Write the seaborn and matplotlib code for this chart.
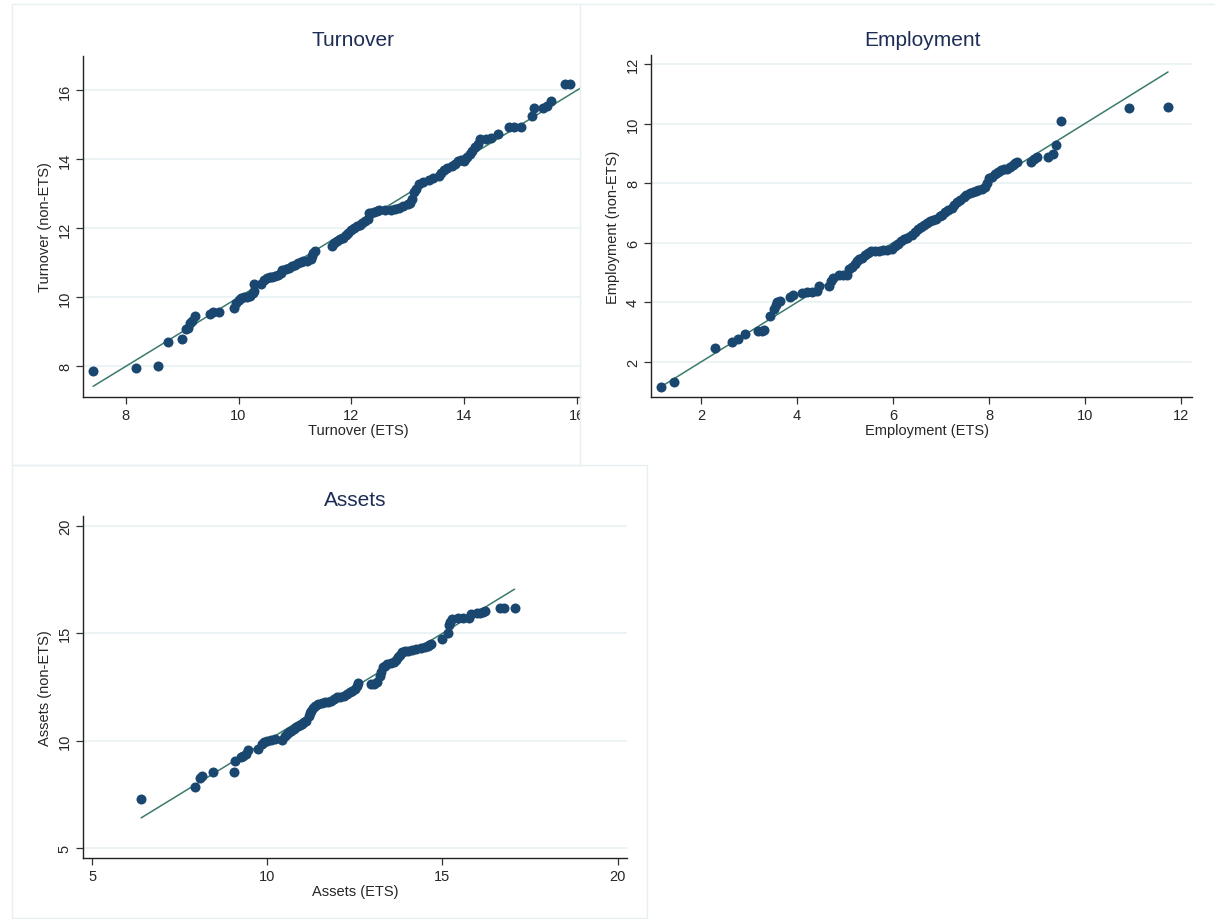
import numpy as np
import pandas as pd
import seaborn as sns
from matplotlib import pyplot as plt
from matplotlib.patches import Rectangle
from matplotlib.lines import Line2D

# quantiles (ETS on x, non-ETS on y)
turn_ets = [7.42, 8.18, 8.57, 8.74, 9.00, 9.07, 9.10, 9.13, 9.17, 9.22, 9.50, 9.55, 9.65,
            9.92, 9.95, 10.00, 10.05, 10.10, 10.15, 10.20, 10.25, 10.28, 10.27, 10.40,
            10.45, 10.50, 10.55, 10.60, 10.65, 10.70, 10.75, 10.78, 10.85, 10.90, 10.95,
            11.00, 11.05, 11.10, 11.15, 11.22, 11.28, 11.30, 11.33, 11.35, 11.65, 11.70,
            11.75, 11.80, 11.85, 11.90, 11.95, 12.00, 12.05, 12.10, 12.15, 12.20, 12.25,
            12.30, 12.32, 12.35, 12.40, 12.45, 12.50, 12.60, 12.70, 12.78, 12.85, 12.92,
            13.00, 13.05, 13.08, 13.12, 13.15, 13.20, 13.28, 13.38, 13.45, 13.55, 13.60,
            13.65, 13.70, 13.78, 13.85, 13.90, 13.95, 14.00, 14.02, 14.05, 14.10, 14.15,
            14.20, 14.25, 14.28, 14.40, 14.48, 14.60, 14.80, 14.88, 15.02, 15.20, 15.25,
            15.40, 15.48, 15.55, 15.80, 15.88]
turn_non = [7.86, 7.94, 8.02, 8.70, 8.80, 9.08, 9.12, 9.27, 9.30, 9.47, 9.52, 9.58, 9.58,
            9.70, 9.85, 9.92, 9.97, 10.00, 10.00, 10.05, 10.12, 10.18, 10.38, 10.38,
            10.50, 10.55, 10.58, 10.60, 10.62, 10.65, 10.70, 10.80, 10.82, 10.85, 10.90,
            10.95, 11.00, 11.02, 11.05, 11.05, 11.10, 11.20, 11.30, 11.35, 11.50, 11.58,
            11.62, 11.68, 11.72, 11.80, 11.88, 11.95, 12.02, 12.08, 12.10, 12.15, 12.22,
            12.28, 12.45, 12.46, 12.48, 12.50, 12.52, 12.52, 12.52, 12.55, 12.60, 12.65,
            12.70, 12.75, 12.85, 13.05, 13.15, 13.28, 13.35, 13.40, 13.45, 13.52, 13.60,
            13.70, 13.75, 13.80, 13.88, 13.95, 13.97, 13.95, 14.02, 14.08, 14.15, 14.25,
            14.35, 14.45, 14.58, 14.60, 14.62, 14.75, 14.95, 14.95, 14.95, 15.25, 15.50,
            15.50, 15.55, 15.70, 16.18, 16.18]

emp_ets = [1.17, 1.44, 2.29, 2.64, 2.77, 2.91, 3.19, 3.26, 3.32, 3.44, 3.51, 3.55, 3.59,
           3.65, 3.86, 3.92, 4.10, 4.20, 4.30, 4.41, 4.45, 4.66, 4.70, 4.75, 4.88, 4.95,
           5.04, 5.09, 5.15, 5.21, 5.25, 5.30, 5.35, 5.42, 5.48, 5.55, 5.63, 5.70, 5.80,
           5.88, 5.97, 6.05, 6.10, 6.16, 6.22, 6.30, 6.39, 6.45, 6.52, 6.58, 6.65, 6.71,
           6.77, 6.84, 6.90, 6.97, 7.03, 7.09, 7.15, 7.22, 7.28, 7.34, 7.40, 7.47, 7.53,
           7.60, 7.66, 7.72, 7.78, 7.85, 7.91, 7.96, 8.00, 8.06, 8.12, 8.18, 8.25, 8.31,
           8.37, 8.44, 8.50, 8.55, 8.59, 8.88, 8.93, 9.00, 9.22, 9.33, 9.39, 9.51, 10.92,
           11.73]
emp_non = [1.16, 1.34, 2.46, 2.67, 2.76, 2.94, 3.02, 3.05, 3.08, 3.55, 3.78, 3.90, 4.02,
           4.04, 4.17, 4.26, 4.30, 4.34, 4.36, 4.39, 4.53, 4.56, 4.70, 4.81, 4.90, 4.90,
           4.90, 5.12, 5.20, 5.29, 5.38, 5.46, 5.50, 5.57, 5.65, 5.71, 5.73, 5.73, 5.74,
           5.76, 5.80, 5.90, 5.97, 6.05, 6.11, 6.15, 6.25, 6.35, 6.47, 6.52, 6.58, 6.65,
           6.72, 6.77, 6.81, 6.88, 6.94, 7.02, 7.09, 7.18, 7.26, 7.35, 7.43, 7.52, 7.60,
           7.66, 7.71, 7.74, 7.76, 7.80, 7.88, 8.00, 8.16, 8.22, 8.29, 8.36, 8.44, 8.47,
           8.49, 8.55, 8.61, 8.66, 8.72, 8.72, 8.80, 8.89, 8.89, 8.97, 9.28, 10.10, 10.52,
           10.55]

ass_ets = [6.40, 7.95, 8.07, 8.13, 8.45, 9.06, 9.08, 9.26, 9.32, 9.38, 9.44, 9.74, 9.86,
           9.92, 9.98, 10.10, 10.21, 10.43, 10.51, 10.57, 10.63, 10.69, 10.75, 10.81,
           10.87, 10.93, 10.99, 11.05, 11.11, 11.19, 11.23, 11.26, 11.31, 11.35, 11.46,
           11.55, 11.64, 11.73, 11.82, 11.91, 12.00, 12.09, 12.18, 12.27, 12.36, 12.43,
           12.50, 12.55, 12.60, 12.95, 13.04, 13.13, 13.21, 13.26, 13.31, 13.37, 13.43,
           13.52, 13.61, 13.67, 13.73, 13.79, 13.85, 13.93, 14.02, 14.14, 14.26, 14.38,
           14.50, 14.59, 14.62, 14.68, 15.00, 15.15, 15.19, 15.23, 15.27, 15.45, 15.60,
           15.75, 15.81, 15.99, 16.08, 16.17, 16.23, 16.64, 16.76, 17.06]
ass_non = [7.27, 7.82, 8.24, 8.36, 8.52, 8.55, 9.06, 9.22, 9.28, 9.37, 9.56, 9.61, 9.84,
           9.92, 9.99, 10.05, 10.07, 10.04, 10.23, 10.30, 10.38, 10.46, 10.54, 10.62,
           10.69, 10.73, 10.77, 10.85, 10.93, 11.16, 11.28, 11.40, 11.52, 11.63, 11.71,
           11.75, 11.78, 11.82, 11.86, 11.94, 12.02, 12.05, 12.09, 12.17, 12.25, 12.33,
           12.41, 12.55, 12.69, 12.64, 12.66, 12.72, 13.03, 13.20, 13.42, 13.50, 13.57,
           13.60, 13.65, 13.75, 13.88, 14.00, 14.12, 14.16, 14.20, 14.24, 14.27, 14.31,
           14.35, 14.43, 14.45, 14.51, 14.74, 15.02, 15.41, 15.55, 15.67, 15.70, 15.70,
           15.70, 15.91, 15.95, 15.97, 15.98, 16.06, 16.19, 16.19, 16.19]

panels = [
    ("Turnover", turn_ets, turn_non, [8, 10, 12, 14, 16], [8, 10, 12, 14, 16]),
    ("Employment", emp_ets, emp_non, [2, 4, 6, 8, 10, 12], [2, 4, 6, 8, 10, 12]),
    ("Assets", ass_ets, ass_non, [5, 10, 15, 20], [5, 10, 15, 20]),
]

W, H = 1215, 920
navy = "#1a476f"
teal = "#3b7a6c"
grid = "#e9f1f3"
frame = "#e8eff1"

sns.set_style("white")
plt.rcParams['font.family'] = ['Liberation Sans', 'DejaVu Sans']

fig = plt.figure(figsize=(W / 100, H / 100), dpi=100)

def box(l, t, r, b):
    return [l / W, (H - b) / H, (r - l) / W, (b - t) / H]

rects = [box(83, 57, 580, 398), box(651, 56, 1192, 398), box(83, 517, 627, 859)]
limits = [((7.24, 16.06), (7.11, 17.0)),
          ((0.955, 12.23), (0.82, 12.3)),
          ((4.74, 20.27), (4.53, 20.47))]
title_pos = [(353, 40), (922, 40), (355, 501)]
xlabel_x = [(358 - 83) / 497, 0.51, 0.5]

for (name, xs, ys, xt, yt), r, (xl, yl), (tx, ty), lx in zip(panels, rects, limits, title_pos, xlabel_x):
    ax = fig.add_axes(r)
    df = pd.DataFrame({"ets": xs, "non": ys})
    lo = min(min(xs), min(ys))
    hi = max(max(xs), max(ys))
    ref = pd.DataFrame({"a": [lo, hi], "b": [lo, hi]})
    for y in yt:
        ax.axhline(y, color=grid, lw=1.2, zorder=0)
    sns.lineplot(data=ref, x="a", y="b", ax=ax, color=teal, lw=1.1, zorder=2)
    sns.scatterplot(data=df, x="ets", y="non", ax=ax, color=navy, s=52,
                    edgecolor=navy, linewidth=0, zorder=3)
    ax.set_xlim(xl)
    ax.set_ylim(yl)
    ax.set_xticks(xt)
    ax.set_yticks(yt)
    ax.tick_params(axis="both", direction="out", length=5, width=0.9,
                   color="#333333", labelsize=10.5, pad=3, bottom=True, left=True)
    plt.setp(ax.get_yticklabels(), rotation=90, va="center")
    ax.set_xlabel(name + " (ETS)", fontsize=10.5, labelpad=1)
    ax.xaxis.set_label_coords(lx, -0.075)
    ax.set_ylabel(name + " (non-ETS)", fontsize=10.5, labelpad=4)
    for s in ["top", "right"]:
        ax.spines[s].set_visible(False)
    for s in ["left", "bottom"]:
        ax.spines[s].set_color("#222222")
        ax.spines[s].set_linewidth(1.0)
    fig.text(tx / W, 1 - ty / H, name, ha="center", va="center",
             fontsize=15, color="#1e2d56")

# the first panel is cut at its right border
fig.patches.append(Rectangle((581 / W, 1 - 426 / H), 20 / W, 26 / H, transform=fig.transFigure,
                             facecolor="white", edgecolor="none", zorder=5))

# faint frames round the combined panels
fig.patches.append(Rectangle((12 / W, 1 - 466 / H), 568 / W, 461 / H, transform=fig.transFigure,
                             fill=False, edgecolor=frame, lw=1, zorder=6))
fig.patches.append(Rectangle((12 / W, 1 - 919 / H), 635 / W, 453 / H, transform=fig.transFigure,
                             fill=False, edgecolor=frame, lw=1, zorder=6))
fig.lines.append(Line2D([580 / W, 1], [1 - 5 / H, 1 - 5 / H], transform=fig.transFigure,
                        color=frame, lw=1, zorder=6))

plt.savefig("out.png", dpi=100)
